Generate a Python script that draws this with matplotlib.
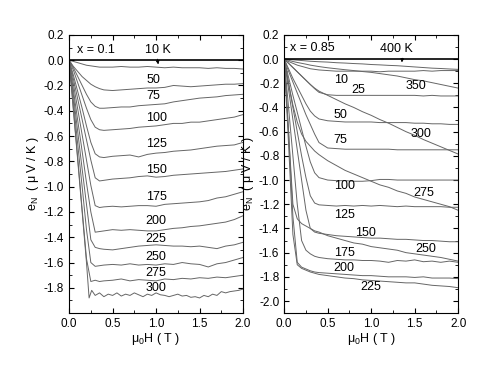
import matplotlib
matplotlib.use("Agg")
import matplotlib.pyplot as plt
from matplotlib.ticker import MultipleLocator

plt.rcParams['font.family'] = ['Liberation Sans', 'DejaVu Sans']
plt.rcParams['axes.unicode_minus'] = False
plt.rcParams['mathtext.default'] = 'regular'

# field grid (T) shared by most curves
H = [0, 0.05, 0.1, 0.15, 0.2, 0.25, 0.3, 0.35, 0.4, 0.5, 0.6, 0.7, 0.8, 0.9,
     1.0, 1.1, 1.2, 1.3, 1.4, 1.5, 1.6, 1.7, 1.8, 1.9, 2.0]

# ---- x = 0.1 panel, e_N in uV/K
a10 = [0, -0.01, -0.02, -0.03, -0.04, -0.045, -0.05, -0.055, -0.055, -0.055, -0.05, -0.055, -0.055,
       -0.05, -0.055, -0.06, -0.055, -0.06, -0.06, -0.06, -0.065, -0.06, -0.065, -0.065, -0.07]
a50 = [0, -0.05, -0.09, -0.13, -0.16, -0.19, -0.21, -0.225, -0.235, -0.24, -0.235, -0.23, -0.225,
       -0.22, -0.22, -0.215, -0.2, -0.205, -0.21, -0.205, -0.2, -0.195, -0.19, -0.19, -0.185]
a75 = [0, -0.06, -0.13, -0.2, -0.27, -0.33, -0.365, -0.38, -0.38, -0.375, -0.37, -0.37, -0.36,
       -0.355, -0.35, -0.345, -0.33, -0.32, -0.31, -0.3, -0.295, -0.29, -0.28, -0.275, -0.27]
a100 = [0, -0.08, -0.18, -0.28, -0.38, -0.47, -0.53, -0.55, -0.555, -0.55, -0.545, -0.54, -0.53,
        -0.525, -0.52, -0.51, -0.5, -0.5, -0.49, -0.49, -0.48, -0.47, -0.46, -0.45, -0.43]
a125 = [0, -0.12, -0.25, -0.38, -0.52, -0.65, -0.74, -0.765, -0.77, -0.76, -0.755, -0.75, -0.765,
        -0.745, -0.735, -0.73, -0.72, -0.715, -0.71, -0.7, -0.69, -0.68, -0.675, -0.67, -0.65]
a150 = [0, -0.15, -0.31, -0.47, -0.63, -0.79, -0.93, -0.955, -0.95, -0.94, -0.935, -0.93, -0.92,
        -0.915, -0.925, -0.92, -0.91, -0.905, -0.9, -0.895, -0.89, -0.885, -0.88, -0.87, -0.86]
a175 = [0, -0.19, -0.39, -0.59, -0.79, -0.99, -1.15, -1.165, -1.16, -1.155, -1.16, -1.155, -1.15,
        -1.15, -1.155, -1.14, -1.135, -1.13, -1.125, -1.12, -1.11, -1.09, -1.08, -1.06, -1.04]
a200 = [0, -0.24, -0.48, -0.72, -0.97, -1.2, -1.36, -1.355, -1.35, -1.34, -1.345, -1.34, -1.345,
        -1.35, -1.35, -1.34, -1.33, -1.325, -1.315, -1.31, -1.3, -1.29, -1.28, -1.26, -1.23]
a225 = [0, -0.28, -0.57, -0.86, -1.14, -1.42, -1.48, -1.49, -1.495, -1.5, -1.49, -1.48, -1.47,
        -1.465, -1.46, -1.465, -1.47, -1.47, -1.475, -1.47, -1.48, -1.49, -1.47, -1.46, -1.44]
a250 = [0, -0.33, -0.67, -1.0, -1.34, -1.6, -1.63, -1.625, -1.62, -1.615, -1.62, -1.61, -1.62,
        -1.615, -1.62, -1.61, -1.615, -1.6, -1.61, -1.615, -1.635, -1.61, -1.6, -1.58, -1.56]
a275 = [0, -0.39, -0.78, -1.18, -1.57, -1.75, -1.74, -1.75, -1.745, -1.74, -1.73, -1.745, -1.735,
        -1.74, -1.745, -1.73, -1.735, -1.725, -1.73, -1.72, -1.725, -1.715, -1.72, -1.71, -1.70]
# 300 K is noisy, finer field grid
H300 = [0, 0.05, 0.1, 0.15, 0.2, 0.23, 0.26, 0.3, 0.35, 0.4, 0.45, 0.5, 0.55, 0.6, 0.65, 0.7,
        0.75, 0.8, 0.85, 0.9, 0.95, 1.0, 1.05, 1.1, 1.15, 1.2, 1.25, 1.3, 1.35, 1.4, 1.45, 1.5,
        1.55, 1.6, 1.65, 1.7, 1.75, 1.8, 1.85, 1.9, 1.95, 2.0]
a300 = [0, -0.4, -0.8, -1.2, -1.6, -1.88, -1.82, -1.86, -1.84, -1.87, -1.85, -1.86, -1.84, -1.865,
        -1.85, -1.86, -1.84, -1.855, -1.87, -1.85, -1.86, -1.84, -1.855, -1.86, -1.87, -1.86,
        -1.85, -1.865, -1.86, -1.875, -1.87, -1.88, -1.86, -1.87, -1.85, -1.86, -1.83, -1.84,
        -1.83, -1.825, -1.82, -1.81]

# ---- x = 0.85 panel
b400 = [0, -0.003, -0.006, -0.009, -0.012, -0.015, -0.018, -0.02, -0.022, -0.025, -0.03, -0.033,
        -0.037, -0.04, -0.045, -0.048, -0.052, -0.055, -0.06, -0.065, -0.07, -0.075, -0.078, -0.082, -0.085]
b350 = [0, -0.01, -0.02, -0.028, -0.035, -0.042, -0.05, -0.056, -0.062, -0.072, -0.08, -0.088,
        -0.095, -0.103, -0.11, -0.12, -0.13, -0.14, -0.155, -0.17, -0.18, -0.195, -0.21, -0.225, -0.24]
b10 = [0, -0.02, -0.035, -0.05, -0.06, -0.07, -0.08, -0.085, -0.09, -0.095, -0.1, -0.1, -0.1,
       -0.1, -0.1, -0.105, -0.1, -0.1, -0.1, -0.1, -0.095, -0.1, -0.095, -0.095, -0.095]
b25 = [0, -0.035, -0.07, -0.105, -0.14, -0.175, -0.21, -0.245, -0.275, -0.295, -0.3, -0.3, -0.3,
       -0.3, -0.3, -0.3, -0.3, -0.3, -0.3, -0.3, -0.305, -0.3, -0.305, -0.305, -0.305]
b300 = [0, -0.035, -0.07, -0.105, -0.14, -0.175, -0.21, -0.24, -0.265, -0.3, -0.335, -0.37, -0.4,
        -0.435, -0.465, -0.5, -0.53, -0.565, -0.6, -0.63, -0.665, -0.695, -0.725, -0.755, -0.785]
b50 = [0, -0.08, -0.16, -0.23, -0.3, -0.37, -0.43, -0.47, -0.495, -0.51, -0.515, -0.52, -0.52,
       -0.52, -0.52, -0.525, -0.525, -0.525, -0.525, -0.53, -0.53, -0.535, -0.535, -0.54, -0.54]
b75 = [0, -0.1, -0.19, -0.28, -0.37, -0.46, -0.54, -0.62, -0.69, -0.735, -0.74, -0.745, -0.745,
       -0.745, -0.745, -0.745, -0.745, -0.75, -0.75, -0.75, -0.75, -0.75, -0.75, -0.75, -0.75]
b275 = [0, -0.2, -0.38, -0.52, -0.62, -0.68, -0.72, -0.76, -0.79, -0.84, -0.88, -0.92, -0.95,
        -0.98, -1.01, -1.04, -1.06, -1.09, -1.11, -1.14, -1.16, -1.18, -1.2, -1.22, -1.25]
b100 = [0, -0.15, -0.3, -0.44, -0.58, -0.72, -0.85, -0.94, -0.98, -1.0, -1.005, -1.005, -1.01,
        -1.01, -1.005, -0.995, -0.995, -1.0, -1.0, -1.0, -1.0, -1.0, -1.0, -1.0, -1.0]
b125 = [0, -0.2, -0.4, -0.6, -0.8, -0.98, -1.13, -1.19, -1.205, -1.21, -1.215, -1.21, -1.215,
        -1.21, -1.215, -1.21, -1.215, -1.22, -1.215, -1.22, -1.22, -1.22, -1.22, -1.225, -1.225]
b150 = [0, -0.25, -0.5, -0.75, -1.0, -1.25, -1.4, -1.43, -1.44, -1.45, -1.46, -1.465, -1.47,
        -1.475, -1.48, -1.48, -1.485, -1.49, -1.49, -1.495, -1.5, -1.5, -1.505, -1.51, -1.51]
b250 = [0, -0.6, -1.2, -1.32, -1.36, -1.38, -1.4, -1.42, -1.43, -1.46, -1.48, -1.5, -1.52,
        -1.53, -1.55, -1.56, -1.57, -1.58, -1.6, -1.61, -1.62, -1.63, -1.64, -1.655, -1.67]
b175 = [0, -0.4, -0.8, -1.2, -1.5, -1.58, -1.61, -1.63, -1.64, -1.65, -1.655, -1.66, -1.66,
        -1.665, -1.665, -1.67, -1.68, -1.665, -1.67, -1.66, -1.675, -1.67, -1.68, -1.67, -1.68]
b200 = [0, -0.6, -1.3, -1.68, -1.72, -1.735, -1.75, -1.76, -1.765, -1.77, -1.775, -1.78, -1.785,
        -1.79, -1.79, -1.795, -1.8, -1.8, -1.8, -1.805, -1.8, -1.81, -1.81, -1.81, -1.815]
b225 = [0, -0.7, -1.45, -1.7, -1.73, -1.745, -1.76, -1.77, -1.78, -1.79, -1.8, -1.81, -1.815,
        -1.825, -1.83, -1.835, -1.84, -1.845, -1.85, -1.85, -1.86, -1.87, -1.875, -1.88, -1.89]

# curve labels: text, field, e_N
left_labels = [("50", 0.97, -0.155), ("75", 0.97, -0.286), ("100", 1.0, -0.46),
               ("125", 1.0, -0.66), ("150", 1.0, -0.866), ("175", 1.0, -1.08),
               ("200", 1.0, -1.274), ("225", 1.0, -1.414), ("250", 1.0, -1.56),
               ("275", 1.0, -1.68), ("300", 1.0, -1.80)]
right_labels = [("10", 0.655, -0.173), ("25", 0.85, -0.255), ("350", 1.52, -0.22),
                ("50", 0.645, -0.46), ("300", 1.575, -0.62), ("75", 0.645, -0.667),
                ("100", 0.69, -1.05), ("275", 1.61, -1.11), ("125", 0.69, -1.29),
                ("150", 0.94, -1.435), ("250", 1.63, -1.566), ("175", 0.69, -1.605),
                ("200", 0.69, -1.73), ("225", 0.99, -1.88)]

LC = '#666666'
LW = 0.7
fig = plt.figure(figsize=(4.9, 3.75), dpi=100)
ax1 = fig.add_axes([0.141, 0.165, 0.355, 0.742])
ax2 = fig.add_axes([0.580, 0.165, 0.355, 0.742])

for e in [a10, a50, a75, a100, a125, a150, a175, a200, a225, a250, a275]:
    ax1.plot(H, e, color=LC, lw=LW)
ax1.plot(H300, a300, color=LC, lw=LW)

for e in [b400, b350, b10, b25, b300, b50, b75, b275, b100, b125, b150, b250, b175, b200, b225]:
    ax2.plot(H, e, color=LC, lw=LW)

for ax in (ax1, ax2):
    ax.axhline(0, color='black', lw=1.2)
    ax.set_xlim(0, 2.0)
    ax.xaxis.set_major_locator(MultipleLocator(0.5))
    ax.xaxis.set_minor_locator(MultipleLocator(0.25))
    ax.yaxis.set_minor_locator(MultipleLocator(0.1))
    ax.tick_params(which='both', direction='in', top=True, right=True, labelsize=8.5)
    ax.tick_params(which='major', length=3.5)
    ax.tick_params(which='minor', length=2)
    ax.xaxis.set_major_formatter(plt.FormatStrFormatter('%.1f'))
    ax.yaxis.set_major_formatter(plt.FormatStrFormatter('%.1f'))
    ax.set_xlabel(r'$\mu_0$H ( T )', fontsize=9, labelpad=1)
    ax.set_ylabel(r'e$_N$  ( $\mu$ V / K )', fontsize=9, labelpad=2)

ax1.set_ylim(-2.0, 0.2)
ax1.set_yticks([0.2, 0.0, -0.2, -0.4, -0.6, -0.8, -1.0, -1.2, -1.4, -1.6, -1.8])
ax2.set_ylim(-2.1, 0.2)
ax2.set_yticks([0.2, 0.0, -0.2, -0.4, -0.6, -0.8, -1.0, -1.2, -1.4, -1.6, -1.8, -2.0])

fs = 9
ax1.text(0.09, 0.083, 'x = 0.1', fontsize=fs, va='center')
ax1.text(1.02, 0.083, '10 K', fontsize=fs, ha='center', va='center')
ax1.annotate('', xy=(1.03, -0.055), xytext=(1.01, 0.03),
             arrowprops=dict(arrowstyle='-|>', color='black', lw=0.6, mutation_scale=5))
for t, x, y in left_labels:
    ax1.text(x, y, t, fontsize=fs, ha='center', va='center')

ax2.text(0.07, 0.093, 'x = 0.85', fontsize=fs, va='center')
ax2.text(1.29, 0.08, '400 K', fontsize=fs, ha='center', va='center')
ax2.annotate('', xy=(1.35, -0.05), xytext=(1.36, 0.03),
             arrowprops=dict(arrowstyle='-|>', color='black', lw=0.6, mutation_scale=5))
for t, x, y in right_labels:
    ax2.text(x, y, t, fontsize=fs, ha='center', va='center')

fig.savefig('out.png', dpi=100)
